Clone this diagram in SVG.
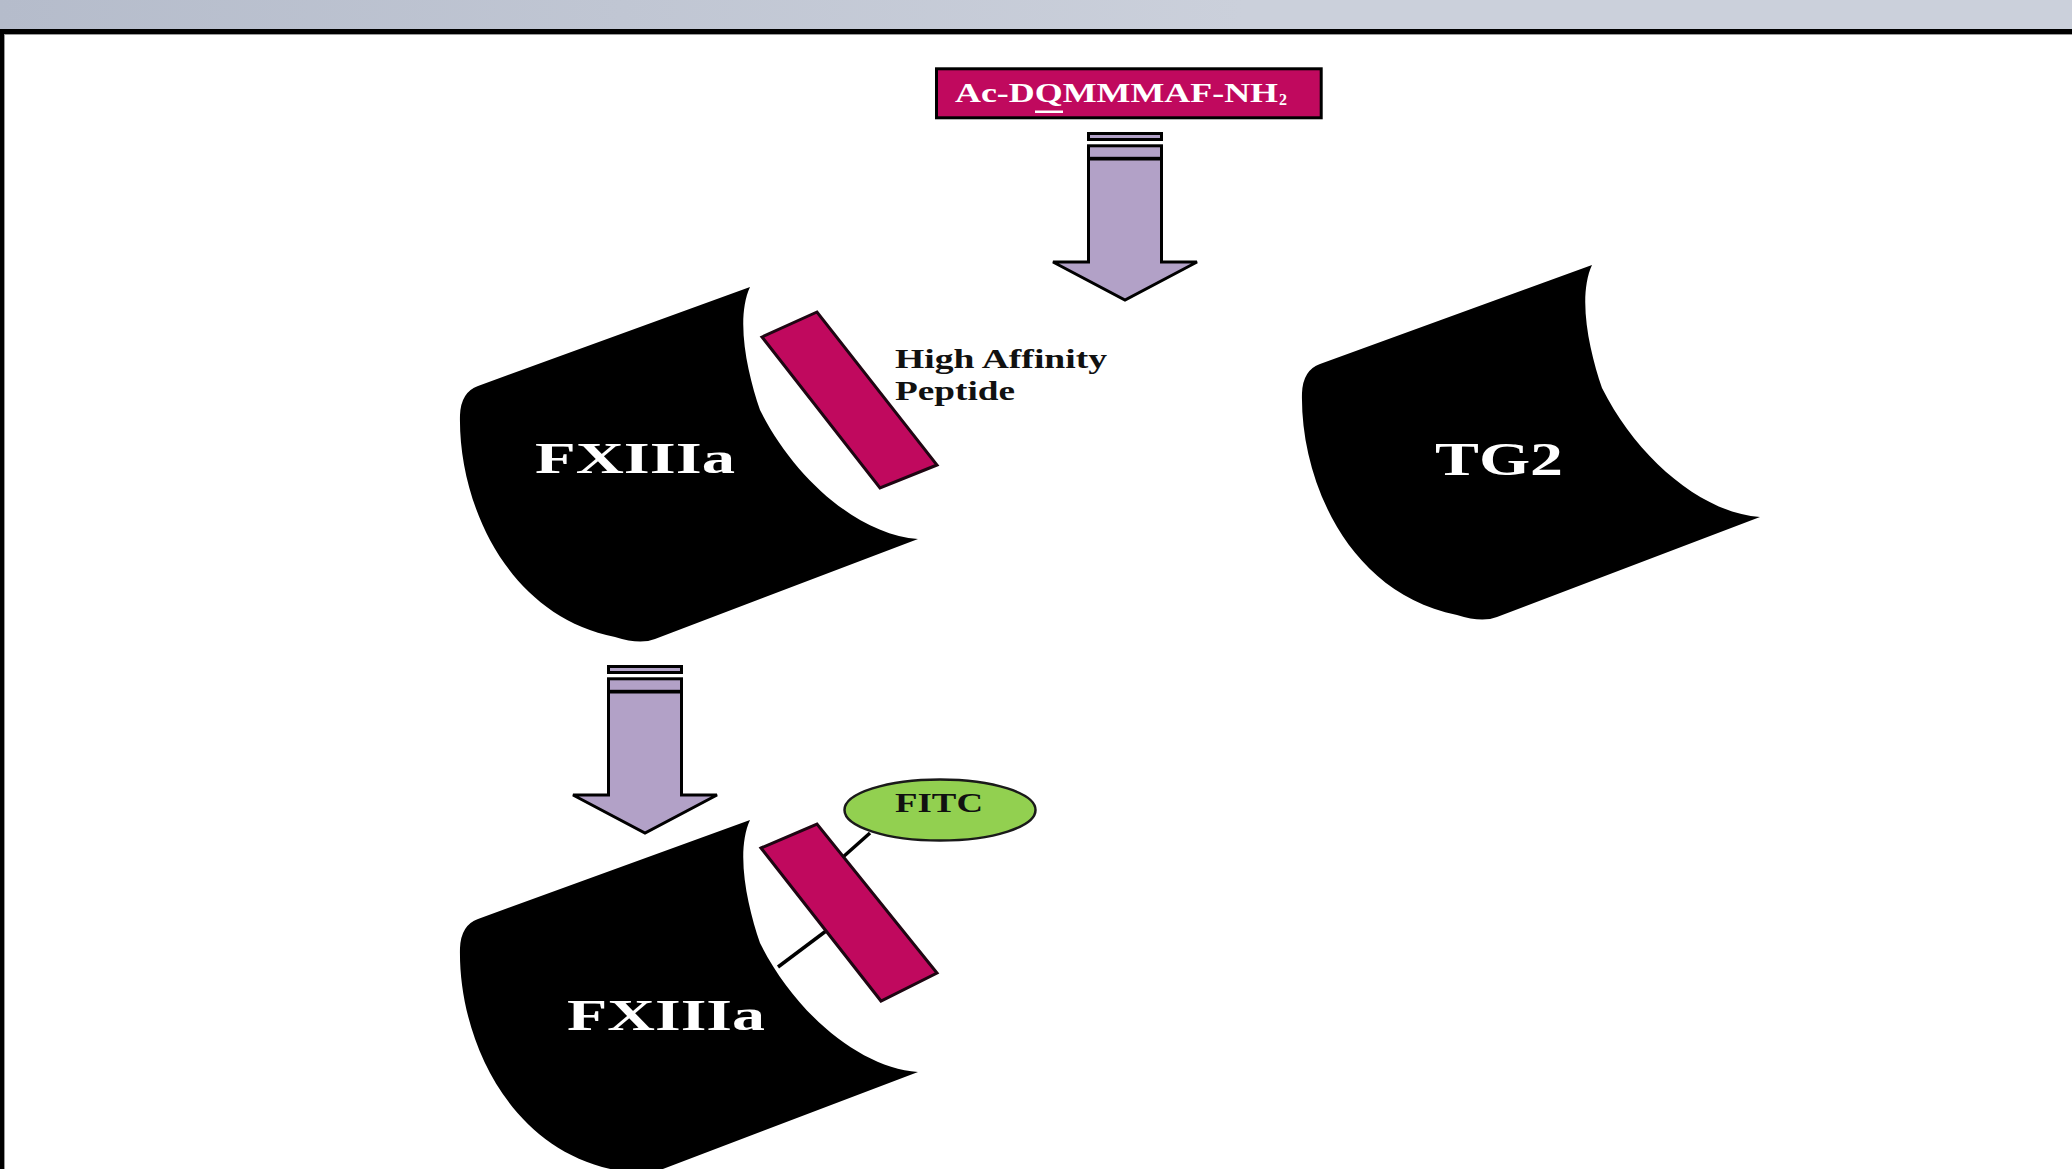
<svg xmlns="http://www.w3.org/2000/svg" xmlns:xlink="http://www.w3.org/1999/xlink" width="2072" height="1169" viewBox="0 0 2072 1169">
<style>
.can{fill:#000}
.lbl{font-family:"Liberation Serif","Times New Roman",serif;font-weight:bold;fill:#fff}
.txt{font-family:"Liberation Serif","Times New Roman",serif;font-weight:bold;fill:#111}
.pep{fill:#c0095e;stroke:#1e0612;stroke-width:3;stroke-linejoin:miter}
.arr{fill:#b2a1c7;stroke:#000;stroke-width:3}
.conn{stroke:#000;stroke-width:3.5;fill:none}
</style>
<defs>
<linearGradient id="band" x1="0" y1="0" x2="1" y2="0">
<stop offset="0" stop-color="#b5bccb"/>
<stop offset="0.6" stop-color="#cbd0db"/>
<stop offset="1" stop-color="#cbd0db"/>
</linearGradient>
<path id="canShape" d="M750,287 L478,386 Q461,392 460,415 C458,500 505,615 615,637 Q640,645 655,639 L918,539 C860,535 795,480 760,410 C748,375 735,320 750,287 Z"/>
<g id="blockArrow">
<rect class="arr" x="-36.5" y="1.5" width="73" height="6"/>
<rect class="arr" x="-36.5" y="13.8" width="73" height="12.5"/>
<polygon class="arr" points="-36.5,27 36.5,27 36.5,130 72,130 0,168 -72,130 -36.5,130"/>
</g>
</defs>
<rect x="0" y="0" width="2072" height="1169" fill="#fff"/>
<g id="frame">
<rect x="0" y="0" width="2072" height="29" fill="url(#band)"/>
<rect x="0" y="29" width="2072" height="5" fill="#000"/>
<rect x="0" y="34" width="2072" height="1" fill="#9a9a9a"/>
<rect x="0" y="29" width="4" height="1140" fill="#000"/>
<rect x="4" y="34" width="1" height="1135" fill="#9a9a9a"/>
</g>
<g id="connectors">
<use xlink:href="#blockArrow" href="#blockArrow" transform="translate(1125,132)"/>
<use xlink:href="#blockArrow" href="#blockArrow" transform="translate(645,665)"/>
<line class="conn" x1="826" y1="931" x2="778" y2="967"/>
<line class="conn" x1="843" y1="857" x2="870" y2="833"/>
</g>
<g id="peptide-substrate">
<rect x="936.5" y="68.8" width="384.7" height="49" fill="#c0095e" stroke="#000" stroke-width="3"/>
<text class="lbl" x="955" y="102" font-size="27"><tspan textLength="323" lengthAdjust="spacingAndGlyphs">Ac-DQMMMAF-NH</tspan><tspan x="1279" dy="3" font-size="16">2</tspan></text>
<rect x="1035" y="110.5" width="28" height="2.5" fill="#fff"/>
</g>
<g id="fxiiia-top">
<use xlink:href="#canShape" href="#canShape" class="can"/>
<text class="lbl" x="535" y="473" font-size="45" textLength="200" lengthAdjust="spacingAndGlyphs">FXIIIa</text>
</g>
<g id="peptide-top">
<polygon class="pep" points="762,337 817,312 937,465 880,488"/>
</g>
<g id="label-high-affinity">
<text class="txt" x="895" y="368" font-size="27" textLength="212" lengthAdjust="spacingAndGlyphs">High Affinity</text>
<text class="txt" x="895" y="400" font-size="27" textLength="120" lengthAdjust="spacingAndGlyphs">Peptide</text>
</g>
<g id="tg2">
<use xlink:href="#canShape" href="#canShape" class="can" transform="translate(842,-22)"/>
<text class="lbl" x="1435" y="475" font-size="46" textLength="128" lengthAdjust="spacingAndGlyphs">TG2</text>
</g>
<g id="fxiiia-bottom">
<use xlink:href="#canShape" href="#canShape" class="can" transform="translate(0,533)"/>
<text class="lbl" x="567" y="1030" font-size="45" textLength="198" lengthAdjust="spacingAndGlyphs">FXIIIa</text>
</g>
<g id="peptide-bottom">
<polygon class="pep" points="761,848 817,824 937,973 881,1001"/>
</g>
<g id="fitc">
<ellipse cx="940" cy="810" rx="95.5" ry="30.5" fill="#92d050" stroke="#1a1a1a" stroke-width="2.5"/>
<text class="txt" x="895" y="812" font-size="27" textLength="88" lengthAdjust="spacingAndGlyphs">FITC</text>
</g>
</svg>
